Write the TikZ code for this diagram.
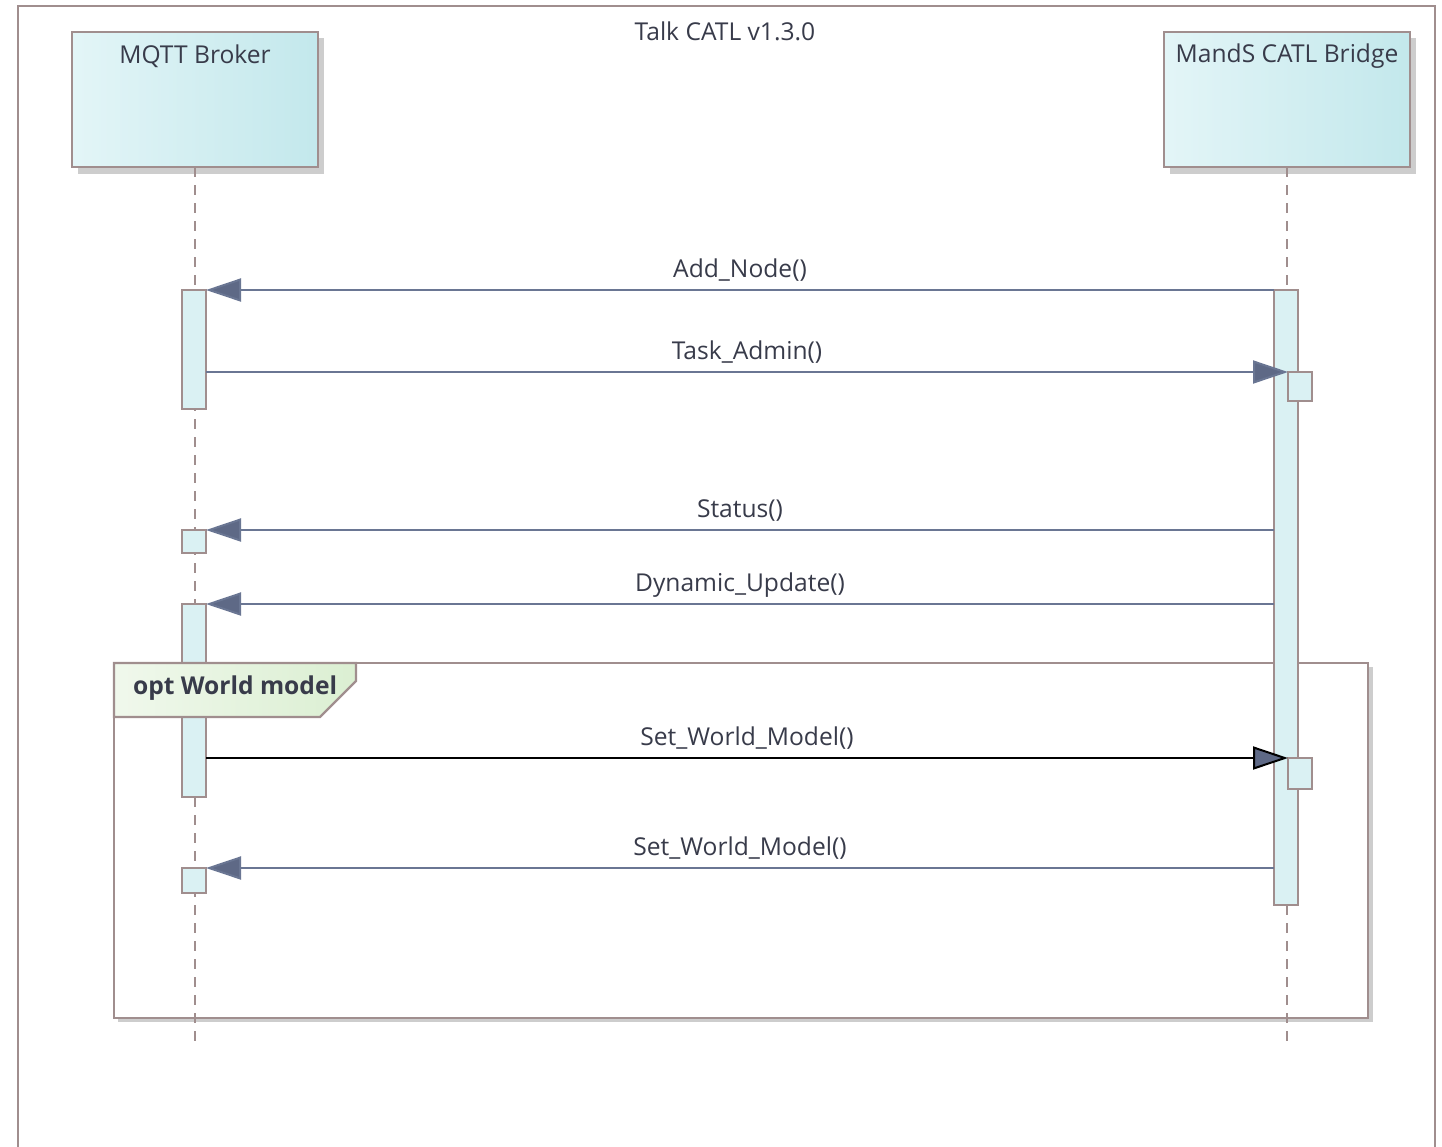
\documentclass[tikz,border=0pt]{standalone}
\usepackage{fontspec}
\setmainfont{Open Sans}
\usetikzlibrary{arrows.meta}
\definecolor{framec}{HTML}{A08E8E}
\definecolor{boxL}{HTML}{E3F5F7}
\definecolor{boxR}{HTML}{C3E8EC}
\definecolor{barc}{HTML}{DAF1F3}
\definecolor{msgc}{HTML}{6A7693}
\definecolor{tipc}{HTML}{5E6986}
\definecolor{shadc}{HTML}{CDCDCD}
\definecolor{fragL}{HTML}{F0F8EC}
\definecolor{fragR}{HTML}{DBEFD2}
\definecolor{txtc}{HTML}{383B4A}
\begin{document}
\begin{tikzpicture}[x=0.5pt,y=-0.5pt,
  every node/.style={text=txtc, font=\fontsize{12.3pt}{14pt}\selectfont},
  framebox/.style={draw=framec, line width=1.2pt},
  lifebox/.style={draw=framec, line width=1.3pt, left color=boxL, right color=boxR, inner sep=0pt, outer sep=0pt, minimum width=123pt, minimum height=67.5pt},
  lifeline/.style={draw=framec, line width=1.1pt, dash pattern=on 5pt off 4pt},
  actbar/.style={draw=framec, line width=1.1pt, fill=barc, inner sep=0pt, outer sep=0pt, minimum width=12pt},
  msg/.style={draw=msgc, line width=1pt, -{Triangle[length=17.5pt,width=11.5pt,fill=tipc]}},
  msgblack/.style={draw=black, line width=1.4pt, -{Triangle[length=17.5pt,width=11.5pt,fill=tipc,line width=1pt]}},
  mlabel/.style={anchor=base, yshift=6.5pt, inner sep=0pt}
]
\useasboundingbox (0,0) rectangle (1442,1147);
% outer frame
\draw[framebox] (18,1147) -- (18,6) -- (1435,6) -- (1435,1147);
\node (title) at (725,31) {Talk CATL v1.3.0};

% fragment
\fill[shadc] (118,667) rectangle (1373,1022);
\draw[framebox, fill=white] (114,663) rectangle (1368,1018);

% lifeline heads
\fill[shadc] (78,38) rectangle (324,174);
\node[lifebox] (mqtt) at (195,99.5) {};
\node (mqttlbl) at (mqtt.north |- 0,56) {MQTT Broker};
\fill[shadc] (1170,38) rectangle (1416,174);
\node[lifebox] (bridge) at (1287,99.5) {};
\node (bridgelbl) at (bridge.north |- 0,56) {MandS CATL Bridge};

% lifelines
\coordinate (mqttend) at (195,1047);
\coordinate (bridgeend) at (1287,1047);
\draw[lifeline] (mqtt.south) -- (mqttend);
\draw[lifeline] (bridge.south) -- (bridgeend);

% activation bars
\node[actbar, minimum height=59.5pt] (lb1) at (194,349.5) {};
\node[actbar, minimum height=11.5pt] (lb2) at (194,541.5) {};
\node[actbar, minimum height=96.5pt] (lb3) at (194,700.5) {};
\node[actbar, minimum height=12.5pt] (lb4) at (194,880.5) {};
\node[actbar, minimum height=307.5pt] (rbar) at (1286,597.5) {};
\node[actbar, minimum height=14.5pt] (rn1) at (1300,386.5) {};
\node[actbar, minimum height=15.5pt] (rn2) at (1300,773.5) {};

% fragment label
\path[draw=framec, line width=1.2pt, left color=fragL, right color=fragR]
  (114,663) -- (356,663) -- (356,681) -- (320,717) -- (114,717) -- cycle;
\node[anchor=west, font=\bfseries\fontsize{12.3pt}{14pt}\selectfont] (fraglbl) at (126,688) {opt World model};

% messages
\draw[msg] (rbar.north west) -- node[mlabel]{Add\_Node()} (lb1.north east);
\draw[msg] (lb1.east |- rn1.north) -- node[mlabel]{Task\_Admin()} (rn1.north west);
\draw[msg] (rbar.west |- lb2.north) -- node[mlabel]{Status()} (lb2.north east);
\draw[msg] (rbar.west |- lb3.north) -- node[mlabel]{Dynamic\_Update()} (lb3.north east);
\draw[msgblack] (lb3.east |- rn2.north) -- node[mlabel]{Set\_World\_Model()} (rn2.north west);
\draw[msg] (rbar.west |- lb4.north) -- node[mlabel]{Set\_World\_Model()} (lb4.north east);
\end{tikzpicture}
\end{document}
